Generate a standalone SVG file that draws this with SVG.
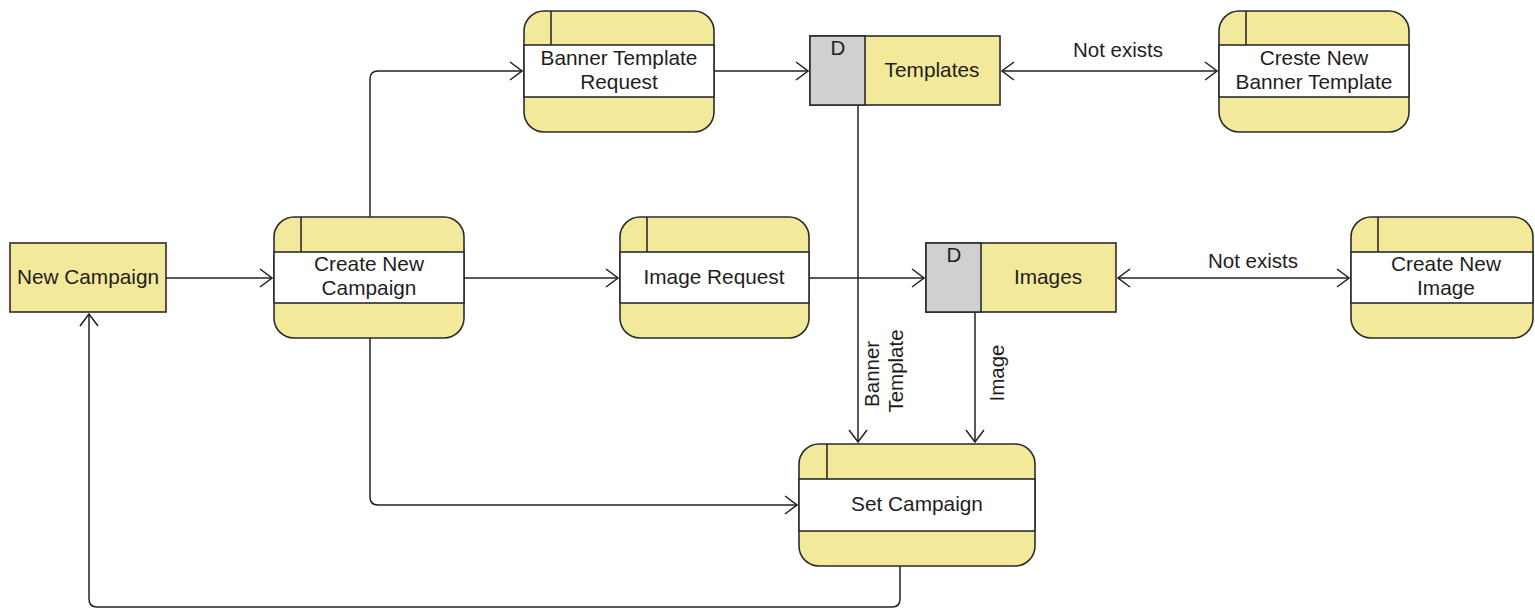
<svg xmlns="http://www.w3.org/2000/svg" width="1535" height="609" viewBox="0 0 1535 609">
  <style>
    .proc-body { fill: #f3e99b; stroke: #2b2b2b; stroke-width: 1.6; }
    .proc-band { fill: #ffffff; stroke: #2b2b2b; stroke-width: 1.6; }
    .line { fill: none; stroke: #2b2b2b; stroke-width: 1.6; }
    .store { fill: #f3e99b; stroke: #2b2b2b; stroke-width: 1.6; }
    .store-id { fill: #d0d0d0; stroke: #2b2b2b; stroke-width: 1.6; }
    .ext { fill: #f3e99b; stroke: #2b2b2b; stroke-width: 1.6; }
    .conn { fill: none; stroke: #222; stroke-width: 1.5; }
    text { font-family: "Liberation Sans", Arial, sans-serif; font-size: 20.8px; fill: #1e1e1e; text-anchor: middle; }
    .lbl { font-size: 20.5px; }
  </style>
  <defs>
    <marker id="arrow" viewBox="0 0 14 20" refX="13" refY="10" markerWidth="14" markerHeight="20" markerUnits="userSpaceOnUse" orient="auto-start-reverse">
      <path d="M1,1 L13,10 L1,19" fill="none" stroke="#222" stroke-width="1.5"/>
    </marker>
  </defs>

  <!-- connectors -->
  <g id="connectors">
    <path class="conn" d="M166,278 L272,278" marker-end="url(#arrow)"/>
    <path class="conn" d="M370,217 L370,79 Q370,71 378,71 L522,71" marker-end="url(#arrow)"/>
    <path class="conn" d="M714,71 L808,71" marker-end="url(#arrow)"/>
    <path class="conn" d="M1002,71 L1217,71" marker-start="url(#arrow)" marker-end="url(#arrow)"/>
    <text x="1118" y="57" class="lbl">Not exists</text>
    <path class="conn" d="M464,278 L618,278" marker-end="url(#arrow)"/>
    <path class="conn" d="M809,278 L924,278" marker-end="url(#arrow)"/>
    <path class="conn" d="M1118,278 L1349,278" marker-start="url(#arrow)" marker-end="url(#arrow)"/>
    <text x="1253" y="268" class="lbl">Not exists</text>
    <path class="conn" d="M858,105 L858,442" marker-end="url(#arrow)"/>
    <text class="lbl" transform="translate(879,371) rotate(-90)">
      <tspan x="0" y="0">Banner</tspan>
      <tspan x="0" y="24">Template</tspan>
    </text>
    <path class="conn" d="M975,312 L975,442" marker-end="url(#arrow)"/>
    <text class="lbl" transform="translate(1004,373) rotate(-90)">Image</text>
    <path class="conn" d="M370,338 L370,497 Q370,505 378,505 L797,505" marker-end="url(#arrow)"/>
    <path class="conn" d="M900,566 L900,599 Q900,607 892,607 L97,607 Q89,607 89,599 L89,314" marker-end="url(#arrow)"/>
  </g>

  <!-- external entity -->
  <g id="new-campaign">
    <rect class="ext" x="10" y="243" width="156" height="69"/>
    <text x="88" y="284">New Campaign</text>
  </g>

  <!-- processes -->
  <g id="create-new-campaign">
    <rect class="proc-body" x="274" y="217" width="190" height="121" rx="20" ry="20"/>
    <rect class="proc-band" x="274" y="252" width="190" height="51"/>
    <line class="line" x1="301" y1="217" x2="301" y2="252"/>
    <text x="369" y="271">Create New</text>
    <text x="369" y="295">Campaign</text>
  </g>

  <g id="banner-template-request">
    <rect class="proc-body" x="524" y="11" width="190" height="121" rx="20" ry="20"/>
    <rect class="proc-band" x="524" y="45" width="190" height="52"/>
    <line class="line" x1="551" y1="11" x2="551" y2="45"/>
    <text x="619" y="65">Banner Template</text>
    <text x="619" y="89">Request</text>
  </g>

  <g id="image-request">
    <rect class="proc-body" x="620" y="217" width="189" height="121" rx="20" ry="20"/>
    <rect class="proc-band" x="620" y="252" width="189" height="51"/>
    <line class="line" x1="647" y1="217" x2="647" y2="252"/>
    <text x="714" y="284">Image Request</text>
  </g>

  <g id="creste-new-banner-template">
    <rect class="proc-body" x="1219" y="11" width="190" height="121" rx="20" ry="20"/>
    <rect class="proc-band" x="1219" y="45" width="190" height="52"/>
    <line class="line" x1="1246" y1="11" x2="1246" y2="45"/>
    <text x="1314" y="65">Creste New</text>
    <text x="1314" y="89">Banner Template</text>
  </g>

  <g id="create-new-image">
    <rect class="proc-body" x="1351" y="217" width="182" height="121" rx="20" ry="20"/>
    <rect class="proc-band" x="1351" y="252" width="182" height="51"/>
    <line class="line" x1="1378" y1="217" x2="1378" y2="252"/>
    <text x="1446" y="271">Create New</text>
    <text x="1446" y="295">Image</text>
  </g>

  <g id="set-campaign">
    <rect class="proc-body" x="799" y="444" width="236" height="122" rx="20" ry="20"/>
    <rect class="proc-band" x="799" y="479" width="236" height="52"/>
    <line class="line" x1="827" y1="444" x2="827" y2="479"/>
    <text x="917" y="511">Set Campaign</text>
  </g>

  <!-- data stores -->
  <g id="templates">
    <rect class="store" x="810" y="36" width="190" height="69"/>
    <rect class="store-id" x="810" y="36" width="55" height="69"/>
    <text x="838" y="55" class="lbl">D</text>
    <text x="932" y="77">Templates</text>
  </g>

  <g id="images">
    <rect class="store" x="926" y="243" width="190" height="69"/>
    <rect class="store-id" x="926" y="243" width="55" height="69"/>
    <text x="954" y="262" class="lbl">D</text>
    <text x="1048" y="284">Images</text>
  </g>
</svg>
